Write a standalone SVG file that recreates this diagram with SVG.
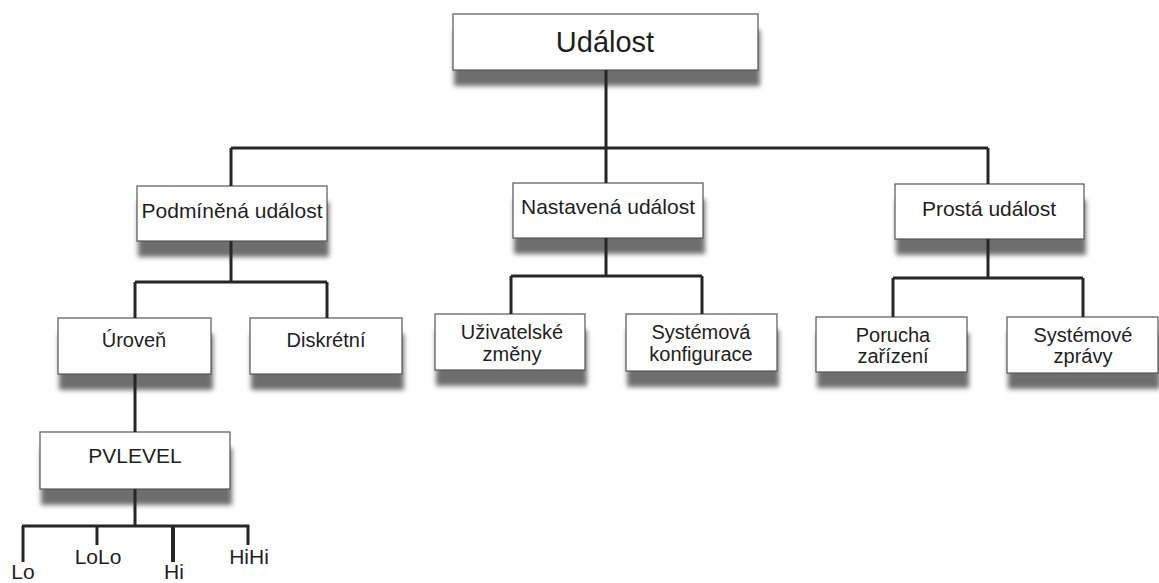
<svg xmlns="http://www.w3.org/2000/svg" width="1159" height="583" viewBox="0 0 1159 583">
  <style>
    .box { fill: #ffffff; stroke: #555555; stroke-width: 1.2; }
    .shadow { fill: #6e6e6e; filter: url(#soft); }
    .lbl { font-family: "Liberation Sans", Arial, sans-serif; fill: #1e1e1e; text-anchor: middle; }
    .t29 { font-size: 29px; }
    .t21 { font-size: 21px; }
    .t20 { font-size: 20px; }
    .wire { fill: none; stroke: #262626; stroke-width: 3; stroke-linecap: butt; stroke-linejoin: miter; }
  </style>
  <defs>
    <filter id="soft" x="-10%" y="-30%" width="120%" height="170%">
      <feGaussianBlur stdDeviation="2.4"/>
    </filter>
  </defs>

  <rect width="1159" height="583" fill="#ffffff"/>

  <!-- root -->
  <g id="udalost">
    <rect class="shadow" x="454" y="30" width="306" height="56"/>
    <rect class="box" x="453" y="14" width="305" height="56"/>
    <text class="lbl t29" x="605" y="52">Událost</text>
  </g>

  <!-- first level -->
  <g id="podminena">
    <rect class="shadow" x="138" y="202" width="191" height="55"/>
    <rect class="box" x="137" y="186" width="190" height="55"/>
    <text class="lbl t21" x="232" y="218">Podmíněná událost</text>
  </g>
  <g id="nastavena">
    <rect class="shadow" x="514" y="199" width="191" height="55"/>
    <rect class="box" x="513" y="183" width="190" height="55"/>
    <text class="lbl t21" x="608" y="214">Nastavená událost</text>
  </g>
  <g id="prosta">
    <rect class="shadow" x="896" y="200" width="190" height="55"/>
    <rect class="box" x="895" y="184" width="189" height="55"/>
    <text class="lbl t21" x="989" y="216">Prostá událost</text>
  </g>

  <!-- second level -->
  <g id="uroven">
    <rect class="shadow" x="59" y="334" width="154" height="56"/>
    <rect class="box" x="58" y="318" width="153" height="56"/>
    <text class="lbl t20" x="134" y="347">Úroveň</text>
  </g>
  <g id="diskretni">
    <rect class="shadow" x="251" y="334" width="153" height="56"/>
    <rect class="box" x="250" y="318" width="152" height="56"/>
    <text class="lbl t20" x="326" y="347">Diskrétní</text>
  </g>
  <g id="uzivatelske-zmeny">
    <rect class="shadow" x="436" y="330" width="151" height="56"/>
    <rect class="box" x="435" y="314" width="150" height="56"/>
    <text class="lbl t20" x="512" y="339">Uživatelské</text>
    <text class="lbl t20" x="512" y="361">změny</text>
  </g>
  <g id="systemova-konfigurace">
    <rect class="shadow" x="627" y="330" width="152" height="57"/>
    <rect class="box" x="626" y="314" width="151" height="57"/>
    <text class="lbl t20" x="701" y="339">Systémová</text>
    <text class="lbl t20" x="701" y="361">konfigurace</text>
  </g>
  <g id="porucha-zarizeni">
    <rect class="shadow" x="817" y="333" width="152" height="55"/>
    <rect class="box" x="816" y="317" width="151" height="55"/>
    <text class="lbl t20" x="893" y="342">Porucha</text>
    <text class="lbl t20" x="893" y="363">zařízení</text>
  </g>
  <g id="systemove-zpravy">
    <rect class="shadow" x="1008" y="333" width="152" height="56"/>
    <rect class="box" x="1007" y="317" width="151" height="56"/>
    <text class="lbl t20" x="1083" y="342">Systémové</text>
    <text class="lbl t20" x="1083" y="363">zprávy</text>
  </g>

  <!-- third level -->
  <g id="pvlevel">
    <rect class="shadow" x="41" y="448" width="191" height="57"/>
    <rect class="box" x="40" y="432" width="190" height="57"/>
    <text class="lbl t21" x="135" y="463">PVLEVEL</text>
  </g>

  <!-- limit levels -->
  <g id="lo"><text class="lbl t21" x="23" y="579">Lo</text></g>
  <g id="lolo"><text class="lbl t21" x="98" y="564">LoLo</text></g>
  <g id="hi"><text class="lbl t21" x="174" y="579">Hi</text></g>
  <g id="hihi"><text class="lbl t21" x="249" y="564">HiHi</text></g>

  <!-- tree connectors -->
  <g id="connectors">
    <path class="wire" d="M606 70 V148 M231 148 H988 M231 148 V186 M606 148 V183 M988 148 V184"/>
    <path class="wire" d="M231 241 V282 M135 282 H327 M135 282 V318 M327 282 V318"/>
    <path class="wire" d="M606 238 V276 M511 276 H702 M511 276 V314 M702 276 V314"/>
    <path class="wire" d="M988 239 V278 M893 278 H1083 M893 278 V317 M1083 278 V317"/>
    <path class="wire" d="M135 374 V432"/>
    <path class="wire" d="M135 489 V526 M22 526 H249.5 M23 526 V562 M97 526 V545 M248 526 V545"/>
    <path class="wire" d="M173 526 V562" style="stroke-width:4"/>
  </g>
</svg>
